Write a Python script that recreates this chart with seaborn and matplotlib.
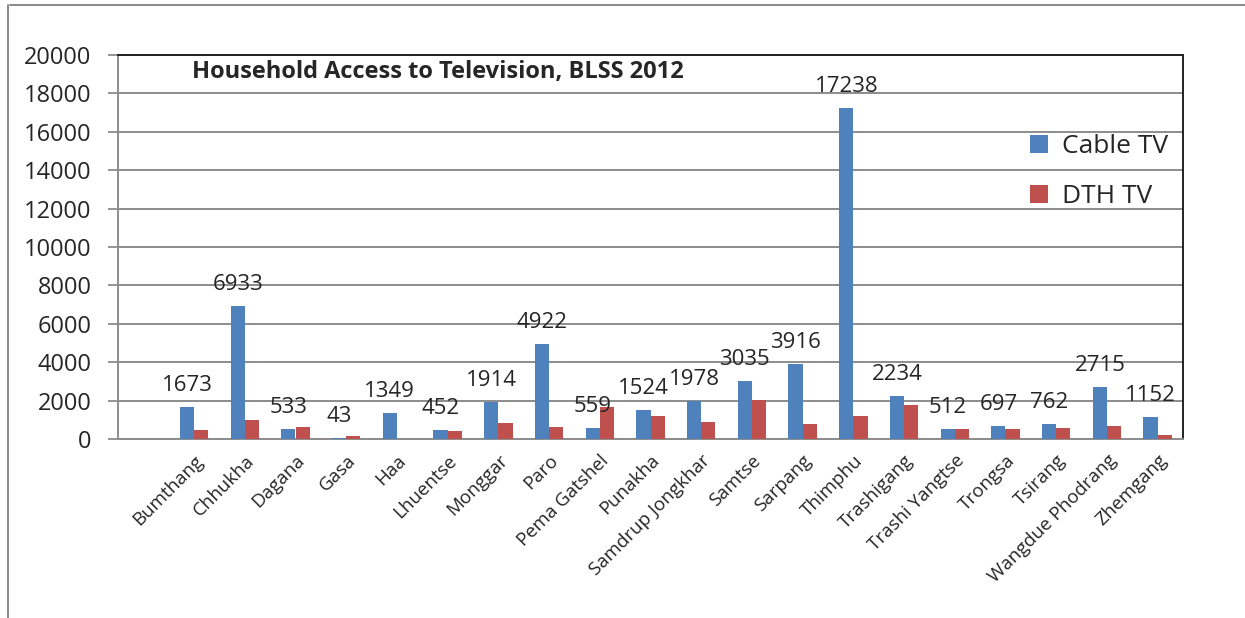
import matplotlib
matplotlib.use("Agg")
import matplotlib.pyplot as plt
import seaborn as sns
import pandas as pd
from matplotlib.lines import Line2D

districts = ["Bumthang", "Chhukha", "Dagana", "Gasa", "Haa", "Lhuentse", "Monggar",
             "Paro", "Pema Gatshel", "Punakha", "Samdrup Jongkhar", "Samtse", "Sarpang",
             "Thimphu", "Trashigang", "Trashi Yangtse", "Trongsa", "Tsirang",
             "Wangdue Phodrang", "Zhemgang"]
cable_tv = [1673, 6933, 533, 43, 1349, 452, 1914, 4922, 559, 1524, 1978, 3035, 3916,
            17238, 2234, 512, 697, 762, 2715, 1152]
dth_tv = [450, 1000, 630, 170, 0, 430, 830, 640, 1650, 1200, 910, 2030, 790,
          1200, 1770, 530, 540, 590, 660, 220]
series_names = ["Cable TV", "DTH TV"]
y_ticks = list(range(0, 20001, 2000))
title = "Household Access to Television, BLSS 2012"

df = pd.DataFrame({
    "District": districts * 2,
    "Series": [series_names[0]] * len(districts) + [series_names[1]] * len(districts),
    "Households": cable_tv + dth_tv,
})

sns.set_theme(style="white")
plt.rcParams["font.family"] = ["Open Sans", "DejaVu Sans"]

fig = plt.figure(figsize=(12.45, 6.18), dpi=100)
ax = fig.add_axes([118 / 1245, 1 - 439 / 618, (1183 - 118) / 1245, (439 - 55) / 618])

sns.barplot(data=df, x="District", y="Households", hue="Series", order=districts,
            hue_order=series_names, palette=["#4F81BD", "#C0504D"], width=0.56,
            saturation=1, errorbar=None, ax=ax, zorder=3, linewidth=0)

ax.set_xlim(-1.5, len(districts) - 0.5)
ax.set_ylim(0, 20000)
ax.set_yticks(y_ticks)
ax.set_yticklabels([str(v) for v in y_ticks], fontsize=17)
ax.yaxis.grid(True, color="#8c8c8c", linewidth=1.4, zorder=0)
ax.set_axisbelow(True)

ax.set_xticks(range(len(districts)))
ax.set_xticklabels(districts, rotation=45, ha="right", rotation_mode="anchor", fontsize=13.5)
ax.set_xticks([i - 0.5 for i in range(-1, len(districts) + 1)], minor=True)
ax.tick_params(axis="x", which="major", length=0, pad=9)
ax.tick_params(axis="x", which="minor", length=7, width=1.3, color="#8c8c8c", direction="out")
ax.tick_params(axis="y", which="major", length=7, width=1.3, color="#8c8c8c", direction="out",
               left=True, pad=12)
ax.set_xlabel("")
ax.set_ylabel("")

for side in ["left", "bottom"]:
    ax.spines[side].set_color("#8c8c8c")
    ax.spines[side].set_linewidth(1.4)
for side in ["top", "right"]:
    ax.spines[side].set_color("#222222")
    ax.spines[side].set_linewidth(1.4)
    ax.spines[side].set_visible(True)

ax.bar_label(ax.containers[0], labels=[str(v) for v in cable_tv], padding=8, fontsize=16)

ax.text(0.0695, 0.956, title, transform=ax.transAxes, fontsize=17, fontweight="bold",
        va="center", ha="left")

leg = ax.legend(loc="upper left", bbox_to_anchor=(0.834, 0.855), frameon=False, fontsize=19,
                handlelength=0.7, handleheight=0.7, handletextpad=0.5, labelspacing=0.95)

fig.add_artist(Line2D([10 / 1245, 1.0], [1 - 5 / 618, 1 - 5 / 618], color="#7f7f7f", lw=1.3,
                      transform=fig.transFigure))
fig.add_artist(Line2D([8 / 1245, 8 / 1245], [1 - 5 / 618, 0.0], color="#7f7f7f", lw=1.3,
                      transform=fig.transFigure))

fig.savefig("out.png", dpi=100)
